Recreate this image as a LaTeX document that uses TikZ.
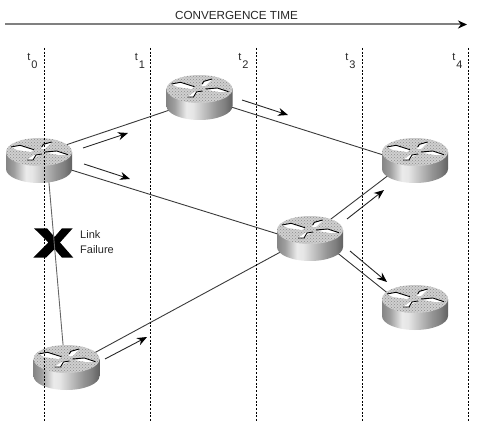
\documentclass[tikz,border=0pt]{standalone}
\usepackage{fontspec}
\setmainfont{Liberation Sans}
\usetikzlibrary{arrows.meta,patterns}
\definecolor{linedark}{HTML}{3A3A3A}
\definecolor{toptone}{HTML}{CFCFCF}
\pgfdeclarehorizontalshading{routerbody}{100bp}{
  color(0bp)=(white!50!black);
  color(25bp)=(white!52!black);
  color(31bp)=(white!62!black);
  color(40bp)=(white!92!black);
  color(45bp)=(white!90!black);
  color(54bp)=(white!74!black);
  color(63bp)=(white!58!black);
  color(69bp)=(white!50!black);
  color(75bp)=(white!38!black);
  color(100bp)=(white!38!black)}
\tikzset{
  x=1pt,y=-1pt,
  hub/.style={inner sep=0pt,minimum size=0pt,outer sep=0pt,shape=coordinate},
  link/.style={draw=linedark,line width=0.9pt},
  flow/.style={draw=black!85,line width=0.9pt,-{Stealth[length=10pt,width=8pt,black]}},
  timeline/.style={draw=black,line width=0.7pt,dash pattern=on 2pt off 1.6pt},
  caption/.style={font=\fontsize{11}{13}\selectfont,inner sep=0pt,text=black!85},
  router/.pic={
    \path[shade,shading=routerbody]
      (-33,-8) -- (-33,9) .. controls (-33,16.7) and (-18.2,23) .. (0,23)
      .. controls (18.2,23) and (33,16.7) .. (33,9) -- (33,-8) -- cycle;
    \fill[toptone] (0,-8) ellipse [x radius=33,y radius=14];
    \fill[pattern=crosshatch dots,pattern color=black!45] (0,-8) ellipse [x radius=33,y radius=14];
    \fill[white] (-28,-13) -- (-19,-14.7) -- (-5,-10.5) -- (-8,-8) -- (-22,-10) -- cycle;
    \draw[black,line width=0.9pt] (-28,-13) -- (-19,-14.7) -- (-5,-10.3);
    \fill[white] (2,-11) -- (5,-15) -- (13,-18) -- (9,-14) -- (6,-11) -- cycle;
    \draw[black,line width=0.9pt] (2.7,-13) -- (4.3,-15.7) -- (12.7,-18);
    \fill[white] (8,-7) -- (18,-9) -- (29,-5.3) -- (20,-5) -- cycle;
    \draw[black,line width=0.9pt] (6,-8) -- (17.7,-9) -- (29,-5.3);
    \fill[white] (-12,0) -- (-5,-5) -- (3,-6) -- (-3,-3) -- (-6,0) -- cycle;
    \draw[black,line width=0.9pt] (-12,0) -- (-6,0) -- (-3,-5) -- (3,-6);
  }
}
\begin{document}
\begin{tikzpicture}
\useasboundingbox (0,0) rectangle (500,435);
% failure mark (under the link)
\fill[black] (34,228.3) -- (47,228.3) -- (54.5,237) -- (62,228.3) -- (72.7,228.3)
  -- (60,242.5) -- (73.3,257.7) -- (62,257.7) -- (54.5,249) -- (46,257.7) -- (33.3,257.7) -- (48.5,242.5) -- cycle;
% hubs
\node[hub] (r1) at (39,160) {};
\node[hub] (r2) at (199.5,97) {};
\node[hub] (r3) at (415,160) {};
\node[hub] (r4) at (310,238) {};
\node[hub] (r5) at (415,307) {};
\node[hub] (r6) at (66.5,367) {};
% links
\draw[link] ([shift={(0,-6)}]r1.center) -- ([shift={(0,3)}]r2.center);
\draw[link] (r1.center) -- ([shift={(0,6)}]r4.center);
\draw[link] (r2.center) -- ([shift={(0,5)}]r3.center);
\draw[link] ([shift={(0,-3)}]r4.center) -- ([shift={(0,-5)}]r3.center);
\draw[link] ([shift={(0,-7)}]r4.center) -- ([shift={(0,8)}]r5.center);
\draw[link] ([shift={(0,-2)}]r4.center) -- ([shift={(0,1)}]r6.center);
\draw[draw=black!60,line width=0.9pt] ([shift={(8,0)}]r1.center) -- ([shift={(-1.5,0)}]r6.center);
% routers
\pic at (r1) {router};
\pic at (r2) {router};
\pic at (r3) {router};
\pic at (r4) {router};
\pic at (r5) {router};
\pic at (r6) {router};
% time columns
\foreach \n/\x in {0/44.5,1/150.5,2/256,3/362,4/468}{
  \coordinate (top\n) at (\x,48);
  \coordinate (bot\n) at (\x,421);
  \draw[timeline] (top\n) -- (bot\n);
}
\node[caption,anchor=center] (t0) at (32.5,61) {t\kern1pt\raisebox{-8pt}{0}};
\node[caption,anchor=center] (t1) at (140,61) {t\kern1pt\raisebox{-8pt}{1}};
\node[caption,anchor=center] (t2) at (243.5,61) {t\kern1pt\raisebox{-8pt}{2}};
\node[caption,anchor=center] (t3) at (350.5,61) {t\kern1pt\raisebox{-8pt}{3}};
\node[caption,anchor=center] (t4) at (457.5,61) {t\kern1pt\raisebox{-8pt}{4}};
% convergence arrow
\coordinate (cs) at (5,24.5);
\coordinate (ce) at (467,24.5);
\draw[draw=black!50,line width=2pt,-{Stealth[length=9pt,width=8pt,black]}] (cs) -- (ce);
\node[font=\fontsize{11.7}{14}\selectfont,inner sep=0pt,text=black!85] (ct) at (236.5,15) {CONVERGENCE TIME};
% flow arrows
\coordinate (a1s) at (83,148); \coordinate (a1e) at (128,133);
\coordinate (a2s) at (84,164); \coordinate (a2e) at (130,179);
\coordinate (a3s) at (242,100); \coordinate (a3e) at (288,115);
\coordinate (a4s) at (347,219); \coordinate (a4e) at (384,190);
\coordinate (a5s) at (350,251); \coordinate (a5e) at (387,282);
\coordinate (a6s) at (105,359); \coordinate (a6e) at (147,337);
\foreach \i in {1,...,6}{\draw[flow] (a\i s) -- (a\i e);}
% failure label
\node[caption,anchor=west] (lk) at (80,235) {Link};
\node[caption,anchor=west] (fl) at (80,250) {Failure};
\end{tikzpicture}
\end{document}
